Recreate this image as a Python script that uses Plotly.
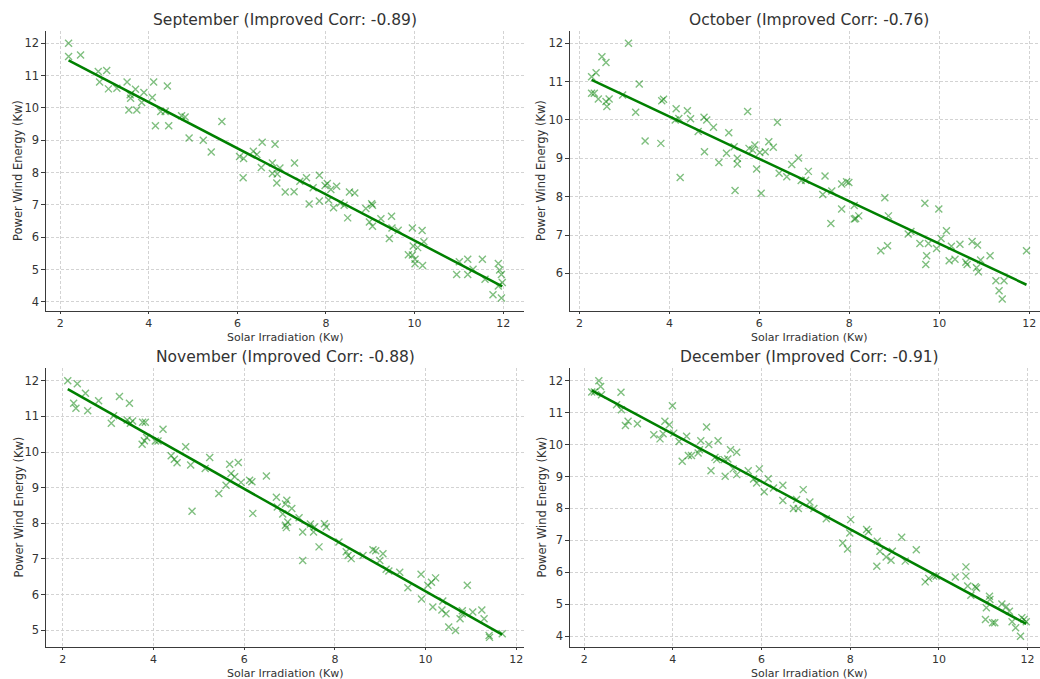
import numpy as np
import plotly.graph_objects as go
from plotly.subplots import make_subplots

months = ["September", "October", "November", "December"]
corr_values = [-0.89, -0.76, -0.88, -0.91]

sep_solar = [2.19, 2.19, 2.46, 2.86, 3.05, 2.89, 3.09, 3.28, 3.51, 3.70, 3.58, 3.59, 3.55, 3.73,
             3.89, 3.84, 4.08, 4.11, 4.42, 4.27, 4.37, 4.15, 4.45, 4.74, 4.82, 4.91, 5.23, 5.41,
             5.65, 6.05, 6.14, 6.13, 6.36, 6.44, 6.56, 6.54, 6.85, 6.79, 6.79, 6.90, 6.96, 6.89,
             7.08, 7.28, 7.29, 7.41, 7.56, 7.71, 7.62, 7.85, 7.85, 7.98, 8.03, 8.06, 8.11, 8.17,
             8.24, 8.32, 8.41, 8.53, 8.65, 8.49, 8.90, 9.03, 9.05, 8.98, 9.05, 9.24, 9.48, 9.43,
             9.49, 9.63, 9.95, 10.17, 10.21, 9.97, 10.07, 9.86, 9.95, 10.01, 10.01, 10.18, 10.95,
             11.01, 11.20, 11.20, 11.32, 11.53, 11.59, 11.77, 11.89, 11.92, 11.96, 11.98, 11.89, 11.96]
sep_wind = [12.00, 11.59, 11.64, 11.13, 11.16, 10.80, 10.59, 10.61, 10.80, 10.58, 10.41, 10.30, 9.94, 9.94,
            10.48, 10.17, 10.32, 10.80, 10.68, 9.89, 9.89, 9.45, 9.45, 9.76, 9.72, 9.07, 9.00, 8.64,
            9.58, 8.50, 8.44, 7.84, 8.66, 8.56, 8.94, 8.16, 8.88, 8.30, 7.97, 7.96, 8.14, 7.68,
            7.40, 7.41, 8.30, 7.73, 7.84, 7.53, 7.03, 7.92, 7.12, 7.60, 7.66, 7.15, 7.48, 6.91,
            7.58, 7.06, 6.99, 7.40, 7.37, 6.60, 6.89, 7.04, 6.99, 6.47, 6.34, 6.57, 6.65, 5.96,
            6.29, 6.22, 6.29, 6.21, 5.86, 5.73, 5.68, 5.46, 5.45, 5.32, 5.18, 5.13, 4.85,
            5.24, 5.32, 4.85, 5.01, 5.32, 4.70, 4.22, 5.19, 4.99, 4.85, 4.60, 4.49, 4.12]

oct_solar = [2.27, 2.27, 2.33, 2.37, 2.42, 2.50, 2.59, 2.59, 2.61, 2.66, 2.96, 3.09, 3.33, 3.25,
             3.46, 3.81, 3.83, 3.87, 4.15, 4.13, 4.21, 4.24, 4.40, 4.47, 4.64, 4.77, 4.83, 4.78,
             4.98, 5.10, 5.27, 5.32, 5.46, 5.44, 5.51, 5.51, 5.74, 5.77, 5.90, 5.85, 5.94, 6.01,
             6.04, 6.13, 6.21, 6.31, 6.40, 6.44, 6.61, 6.72, 6.87, 6.93, 7.03, 7.09, 7.41, 7.46,
             7.59, 7.61, 7.83, 7.94, 7.99, 7.83, 8.11, 8.11, 8.14, 8.21, 8.70, 8.79, 8.85, 8.87,
             9.31, 9.37, 9.57, 9.68, 9.72, 9.70, 9.76, 9.94, 9.99, 10.04, 10.16, 10.22, 10.27,
             10.35, 10.46, 10.59, 10.62, 10.73, 10.85, 10.83, 10.87, 10.92, 11.13, 11.26, 11.33,
             11.40, 11.44, 11.94]
oct_wind = [11.13, 10.70, 10.70, 11.23, 10.55, 11.65, 11.50, 10.48, 10.35, 10.55, 10.65, 12.00, 10.94, 10.20,
            9.45, 9.39, 10.50, 10.54, 10.29, 10.00, 10.04, 8.50, 10.24, 10.03, 9.70, 10.07, 10.00, 9.17,
            9.81, 8.89, 9.13, 9.67, 8.16, 9.30, 9.00, 8.85, 10.22, 9.26, 9.35, 9.22, 8.72, 9.15,
            8.09, 9.17, 9.43, 9.29, 9.94, 8.61, 8.52, 8.84, 9.01, 8.42, 8.43, 8.66, 8.06, 8.54,
            7.30, 8.15, 8.33, 8.39, 8.37, 7.68, 7.77, 7.42, 7.43, 7.50, 6.59, 7.97, 6.72, 7.50,
            7.03, 7.09, 6.78, 7.83, 6.46, 6.23, 6.78, 6.65, 7.68, 6.91, 7.11, 6.33, 6.71,
            6.37, 6.76, 6.29, 6.23, 6.83, 6.74, 6.15, 6.04, 6.35, 6.46, 5.81, 5.55,
            5.33, 5.81, 6.59]

nov_solar = [2.11, 2.32, 2.24, 2.29, 2.50, 2.55, 2.79, 3.07, 3.12, 3.25, 3.42, 3.47, 3.49, 3.54,
             3.76, 3.82, 3.75, 3.80, 3.85, 4.04, 4.10, 4.21, 4.39, 4.46, 4.52, 4.71, 4.82, 4.85,
             5.14, 5.24, 5.44, 5.60, 5.68, 5.71, 5.79, 5.87, 5.93, 6.12, 6.17, 6.19, 6.49, 6.71,
             6.73, 6.94, 6.91, 7.05, 6.85, 6.91, 6.93, 6.96, 7.21, 7.29, 7.29, 7.46, 7.53, 7.55,
             7.65, 7.77, 7.81, 8.09, 8.25, 8.29, 8.36, 8.62, 8.84, 8.90, 9.06, 8.99, 9.13, 9.19,
             9.43, 9.61, 9.90, 9.91, 10.05, 10.13, 10.22, 10.16, 10.36, 10.38, 10.45, 10.51,
             10.66, 10.76, 10.81, 10.81, 10.92, 11.04, 11.24, 11.29, 11.40, 11.41, 11.69]
nov_wind = [12.00, 11.92, 11.37, 11.23, 11.65, 11.16, 11.44, 10.81, 11.02, 11.56, 10.90, 11.37, 10.81, 10.87,
            10.84, 10.84, 10.22, 10.32, 10.41, 10.31, 10.31, 10.64, 9.90, 9.80, 9.70, 10.15, 9.64, 8.34,
            9.54, 9.85, 8.84, 9.07, 9.66, 9.40, 9.31, 9.71, 9.15, 9.21, 9.17, 8.28, 9.33, 8.73,
            8.46, 8.65, 8.54, 8.42, 8.26, 7.95, 7.88, 8.04, 8.16, 7.76, 6.96, 7.98, 7.76, 7.90,
            7.34, 7.99, 7.90, 7.48, 7.20, 7.10, 7.01, 7.10, 7.26, 7.23, 7.15, 6.96, 6.71, 6.66,
            6.63, 6.19, 6.57, 5.88, 6.26, 6.35, 6.47, 5.65, 5.57, 5.82, 5.46, 5.09,
            4.99, 5.32, 5.46, 5.55, 6.26, 5.51, 5.57, 5.32, 4.85, 4.80, 4.90]

dec_solar = [2.17, 2.23, 2.33, 2.37, 2.39, 2.83, 2.73, 2.84, 2.93, 2.99, 3.20, 3.57, 3.71, 3.78,
             3.82, 3.92, 3.99, 4.02, 4.14, 4.21, 4.31, 4.35, 4.42, 4.60, 4.57, 4.63, 4.76, 4.81,
             4.86, 4.95, 5.02, 4.99, 5.18, 5.16, 5.24, 5.30, 5.36, 5.44, 5.44, 5.70, 5.82, 5.89,
             5.95, 6.06, 6.15, 6.27, 6.48, 6.48, 6.72, 6.79, 6.83, 6.94, 7.09, 7.18, 7.46, 7.83,
             7.94, 7.99, 8.01, 8.37, 8.41, 8.61, 8.60, 8.67, 8.81, 8.92, 8.95, 9.16, 9.24, 9.49,
             9.69, 9.77, 9.88, 9.94, 10.37, 10.61, 10.61, 10.65, 10.82, 10.85, 10.72, 11.14,
             11.15, 11.07, 11.05, 11.21, 11.26, 11.42, 11.52, 11.59, 11.65, 11.73, 11.84, 11.87,
             11.92, 11.97]
dec_wind = [11.65, 11.65, 12.00, 11.82, 11.56, 11.64, 11.25, 11.09, 10.60, 10.73, 10.65, 10.31, 10.18, 10.34,
            10.73, 10.62, 11.22, 10.36, 10.10, 9.48, 10.26, 9.66, 9.66, 9.84, 9.74, 10.12, 10.55, 10.00,
            9.18, 9.60, 10.12, 9.53, 9.01, 9.53, 9.55, 9.84, 9.24, 9.76, 9.06, 9.18, 8.92, 8.80,
            9.24, 8.52, 8.93, 8.64, 8.73, 8.25, 8.00, 8.28, 8.00, 8.59, 8.20, 8.00, 7.68, 6.92,
            6.73, 7.23, 7.65, 7.34, 7.27, 6.97, 6.19, 6.66, 6.48, 6.38, 6.66, 7.10, 6.35, 6.71,
            5.70, 5.81, 5.88, 5.88, 5.85, 6.17, 5.88, 5.57, 5.55, 5.51, 5.28, 5.25,
            5.15, 4.89, 4.52, 4.42, 4.42, 5.01, 4.92, 4.78, 4.45, 4.26, 4.00, 4.58,
            4.52, 4.45]

solar = [sep_solar, oct_solar, nov_solar, dec_solar]
wind = [sep_wind, oct_wind, nov_wind, dec_wind]

# axis extents (matplotlib-like 5% padding) and subplot placement in pixels
W, H = 1040, 679
x_ranges = [[1.68, 12.47], [1.79, 12.24], [1.63, 12.17], [1.68, 12.28]]
y_ranges = [[3.72, 12.38], [5.02, 12.32], [4.53, 12.36], [3.66, 12.40]]
x_px = [(46, 524), (570, 1040), (46, 524), (570, 1040)]
y_px = [(31, 311), (31, 311), (368, 647), (368, 647)]
title_cx = [285, 809, 285, 809]
title_cy = [20, 20, 357, 357]
xlabel_cy = [337, 337, 673, 673]
ylabel_cx = [18, 541, 18, 541]

TEXT = "#333333"
AXIS = "#3a3a3a"
GRID = "#d3d3d3"

fig = make_subplots(rows=2, cols=2)

for i in range(4):
    r, c = i // 2 + 1, i % 2 + 1
    xs = np.array(solar[i])
    ys = np.array(wind[i])
    fig.add_trace(go.Scatter(
        x=xs, y=ys, mode="markers",
        marker=dict(symbol="x-thin", size=7,
                    line=dict(width=1.4, color="rgba(0,128,0,0.5)")),
        showlegend=False, hoverinfo="x+y"), row=r, col=c)

    slope, intercept = np.polyfit(xs, ys, 1)
    lx = np.array([xs.min(), xs.max()])
    fig.add_trace(go.Scatter(
        x=lx, y=slope * lx + intercept, mode="lines",
        line=dict(color="#008000", width=2.5),
        showlegend=False, hoverinfo="skip"), row=r, col=c)

    sfx = "" if i == 0 else str(i + 1)
    fig.layout["xaxis" + sfx].update(
        domain=[x_px[i][0] / W, x_px[i][1] / W],
        range=x_ranges[i], tickvals=[2, 4, 6, 8, 10, 12],
        showline=True, linecolor=AXIS, linewidth=1.2, mirror=False,
        ticks="outside", ticklen=2, tickwidth=1, tickcolor=AXIS,
        showgrid=True, gridcolor=GRID, gridwidth=0.8, griddash="3px,2px",
        zeroline=False, tickfont=dict(size=11, color=TEXT))
    fig.layout["yaxis" + sfx].update(
        domain=[1 - y_px[i][1] / H, 1 - y_px[i][0] / H],
        range=y_ranges[i], dtick=1,
        showline=True, linecolor=AXIS, linewidth=1.2, mirror=False,
        ticks="outside", ticklen=3.5, tickwidth=1, tickcolor=AXIS,
        showgrid=True, gridcolor=GRID, gridwidth=0.8, griddash="3px,2px",
        zeroline=False, tickfont=dict(size=11.5, color=TEXT))

    fig.add_annotation(
        text=f"{months[i]} (Improved Corr: {corr_values[i]:.2f})",
        x=title_cx[i] / W, y=1 - title_cy[i] / H, xref="paper", yref="paper",
        xanchor="center", yanchor="middle", showarrow=False,
        font=dict(size=15.5, color=TEXT))
    fig.add_annotation(
        text="Solar Irradiation (Kw)",
        x=title_cx[i] / W, y=1 - xlabel_cy[i] / H, xref="paper", yref="paper",
        xanchor="center", yanchor="middle", showarrow=False,
        font=dict(size=11, color=TEXT))
    fig.add_annotation(
        text="Power Wind Energy (Kw)", textangle=-90,
        x=ylabel_cx[i] / W, y=1 - (y_px[i][0] + y_px[i][1]) / 2 / H,
        xref="paper", yref="paper",
        xanchor="center", yanchor="middle", showarrow=False,
        font=dict(size=11.5, color=TEXT))

fig.update_layout(
    width=W, height=H,
    margin=dict(l=0, r=0, t=0, b=0),
    paper_bgcolor="white", plot_bgcolor="white",
    font=dict(family="DejaVu Sans", color=TEXT),
)

fig.write_html("out.html")
